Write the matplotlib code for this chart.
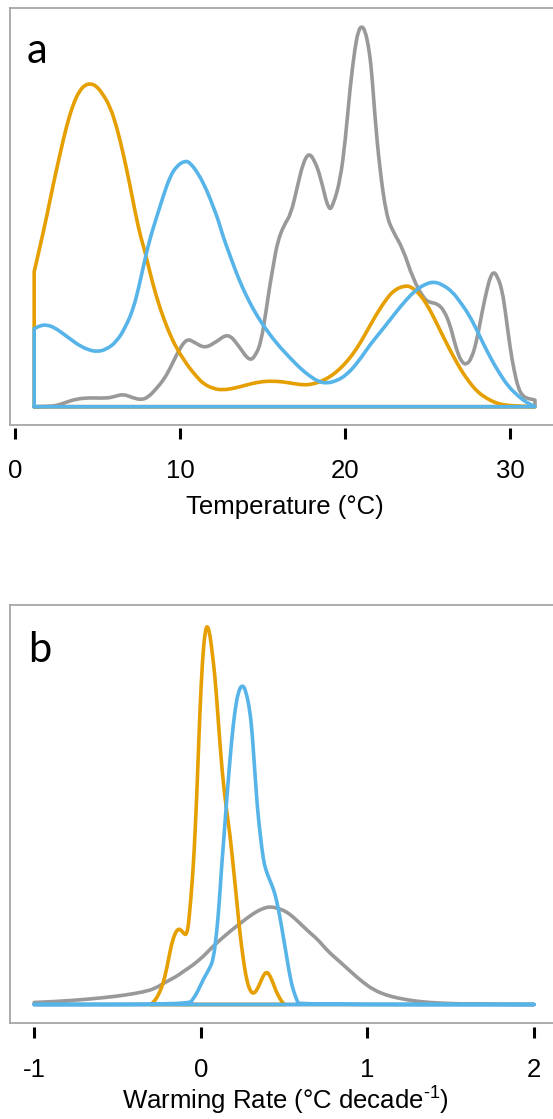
import matplotlib
matplotlib.use("Agg")
import matplotlib.pyplot as plt
from matplotlib.path import Path
from matplotlib.patches import PathPatch

plt.rcParams['font.family'] = ['Liberation Sans', 'DejaVu Sans']
plt.rcParams['mathtext.fontset'] = 'custom'
plt.rcParams['mathtext.rm'] = 'Liberation Sans'
plt.rcParams['mathtext.it'] = 'Liberation Sans:italic'
plt.rcParams['mathtext.sf'] = 'Liberation Sans'

ORANGE = '#E69F00'
BLUE = '#56B4E9'
GREY = '#999999'
FRAME = '#A6A6A6'

# ---- panel a: temperature densities (relative units) ----
temp_orange_x = [1.15, 1.5, 1.87, 2.3, 2.72, 3.1, 3.52, 3.9, 4.25, 4.57, 4.9, 5.3, 5.75, 6.15, 6.55,
                 6.95, 7.3, 7.6, 7.87, 8.3, 8.78, 9.3, 9.79, 10.3, 10.6, 11.0, 11.4, 12.0, 12.6, 13.3,
                 14.0, 14.7, 15.4, 16.2, 16.9, 17.5, 18.0, 18.5, 19.1, 19.7, 20.2, 20.7, 21.2, 21.8, 22.5,
                 23.0, 23.6, 24.0, 24.5, 25.0, 25.5, 26.0, 26.5, 27.0, 27.5, 28.0, 28.6, 29.1, 29.6, 30.5,
                 31.5]
temp_orange_y = [135, 160, 187, 222, 253, 280, 303, 316, 322, 323, 321, 313, 300, 280, 253,
                 222, 192, 170, 155, 125, 98, 75, 58, 45, 38, 30, 23, 18, 16.7, 18.5,
                 21.7, 24.5, 25.7, 25, 23, 21.7, 22.5, 25, 30, 38, 47, 58, 72, 90, 108,
                 117, 121, 120, 113, 101, 85, 68, 52, 37, 25, 15, 8, 4, 1.7, 0.5,
                 0]

temp_blue_x = [1.15, 1.5, 1.9, 2.4, 2.9, 3.32, 3.8, 4.4, 4.94, 5.5, 6.15, 6.7, 7.16, 7.5, 7.87,
               8.2, 8.58, 9.0, 9.38, 9.8, 10.3, 10.6, 11.1, 11.6, 12.0, 12.3, 12.6, 13.0, 13.4, 13.8,
               14.4, 15.0, 15.8, 16.7, 17.3, 17.9, 18.4, 18.9, 19.5, 20.1, 20.8, 21.5, 22.3, 23.1, 23.7,
               24.3, 24.9, 25.4, 25.9, 26.5, 27.0, 27.5, 28.0, 28.4, 28.9, 29.4, 29.9, 30.4, 30.9, 31.5]
temp_blue_y = [78, 81, 82, 79, 73, 68, 62, 57, 55, 57, 65, 80, 98, 120, 148,
               170, 190, 212, 230, 241, 246, 244, 233, 217, 200, 187, 170, 152, 134, 118,
               98, 82, 64, 48, 38, 30, 25, 23.4, 26, 32, 45, 62, 78, 95, 107,
               117, 123, 125, 122, 115, 104, 92, 76, 62, 46, 32, 20, 12, 5, 0]

temp_grey_x = [1.15, 2.0, 2.5, 3.1, 3.7, 4.5, 5.5, 6.0, 6.55, 7.1, 7.67, 8.1, 8.57, 9.0, 9.38,
               9.9, 10.4, 10.9, 11.5, 12.2, 12.9, 13.5, 14.2, 14.6, 14.9, 15.2, 15.4, 15.65, 15.9, 16.3,
               16.7, 17.1, 17.45, 17.8, 18.15, 18.5, 19.0, 19.3, 19.7, 20.0, 20.3, 20.6, 20.8, 21.0, 21.2,
               21.4, 21.6, 21.8, 22.1, 22.5, 22.9, 23.5, 24.1, 24.8, 25.2, 25.6, 26.0, 26.35, 26.6, 26.85,
               27.1, 27.35, 27.65, 27.96, 28.3, 28.6, 28.8, 29.0, 29.2, 29.5, 29.75, 30.0, 30.25, 30.5, 30.75,
               31.0, 31.5]
temp_grey_y = [0, 0.3, 1, 4.5, 7.7, 9, 8.4, 10, 12.7, 9, 6.7, 10, 18.4, 27, 38,
               56, 68.4, 64, 58.4, 65, 73.4, 62, 45, 52, 65, 95, 118, 142, 165, 182,
               192, 220, 244, 254, 246, 230, 195, 203, 227, 265, 320, 360, 376, 381, 376,
               362, 337, 290, 237, 191, 175, 158, 128, 107, 104, 103, 96, 82, 66, 52,
               44, 42, 48, 65, 95, 118, 130, 135, 131, 118, 90, 58, 35, 18, 11,
               8.4, 6.7]

temp_ticks = [0, 10, 20, 30]
temp_ticklabels = ['0', '10', '20', '30']

# ---- panel b: warming-rate densities (relative units) ----
rate_orange_x = [-0.30, -0.275, -0.255, -0.235, -0.215, -0.195, -0.175, -0.155, -0.135, -0.115,
                 -0.095, -0.085, -0.075, -0.06, -0.045, -0.035, -0.025, -0.015, -0.005, 0.01,
                 0.025, 0.039, 0.055, 0.07, 0.085, 0.10, 0.115, 0.13, 0.15, 0.175,
                 0.195, 0.215, 0.235, 0.255, 0.275, 0.295, 0.315, 0.335, 0.355, 0.375,
                 0.395, 0.415, 0.435, 0.455, 0.475, 0.49, 0.505]
rate_orange_y = [0, 4, 9.5, 17, 28, 44, 61, 71, 76, 74,
                 69.5, 71, 78, 105, 138, 170, 206, 250, 294, 345,
                 372, 380, 370, 350, 328, 295, 261, 230, 200, 170,
                 138, 105, 71, 45, 24.5, 14, 10.5, 14, 21, 29,
                 33, 29, 21, 12, 6, 2, 0]

rate_blue_x = [-1.0, -0.07, -0.045, -0.025, -0.005, 0.015, 0.035, 0.055, 0.075, 0.095, 0.11,
               0.125, 0.14, 0.155, 0.175, 0.19, 0.205, 0.225, 0.249, 0.27, 0.295,
               0.31, 0.319, 0.33, 0.339, 0.355, 0.375, 0.39, 0.405, 0.425, 0.445,
               0.465, 0.485, 0.505, 0.525, 0.545, 0.565, 0.58, 0.59, 2.0]
rate_blue_y = [0, 0, 6, 11, 18, 25, 31, 37, 45, 71, 100,
               138, 170, 204, 245, 272, 294, 313, 320, 314, 294,
               268, 245, 220, 198, 172, 145, 135, 128, 120, 111,
               96, 78, 58, 38, 20, 9.5, 3, 0, 0]

rate_grey_x = [-1.0, -0.78, -0.57, -0.45, -0.337, -0.275, -0.205, -0.146, -0.105, -0.05,
               0.015, 0.06, 0.115, 0.175, 0.235, 0.29, 0.335, 0.38, 0.415, 0.46,
               0.515, 0.565, 0.615, 0.66, 0.705, 0.764, 0.84, 0.912, 0.975, 1.039,
               1.11, 1.187, 1.3, 1.44, 1.65, 2.0]
rate_grey_y = [2, 3.8, 7, 9.5, 12.8, 16, 23, 28, 33, 39,
               48, 56, 64.5, 73, 81, 88, 93, 96.5, 97.8, 96.5,
               92.8, 86, 78, 71, 64.5, 53, 42, 31, 22, 14.5,
               9.5, 6.2, 3, 1.2, 0.3, 0]

rate_ticks = [-1, 0, 1, 2]
rate_ticklabels = ['-1', '0', '1', '2']

W, H = 553, 1119
FS = 18.5
fig = plt.figure(figsize=(W / 100, H / 100), dpi=100)


def panel(left, right, top, bottom):
    """Axes placed by pixel edges (right edge may run past the figure)."""
    return fig.add_axes([left / W, 1 - bottom / H, (right - left) / W, (bottom - top) / H])


def outline(ax, x, y, color):
    """Density outline: vertical edge up from the baseline, a smoothed curve
    through the density values, then back along the baseline."""
    pts = list(zip(x, y))
    verts = [(x[0], 0), pts[0]]
    codes = [Path.MOVETO, Path.LINETO]
    mid = lambda a, b: ((a[0] + b[0]) / 2, (a[1] + b[1]) / 2)
    verts.append(mid(pts[0], pts[1]))
    codes.append(Path.LINETO)
    for i in range(1, len(pts) - 1):
        verts += [pts[i], mid(pts[i], pts[i + 1])]
        codes += [Path.CURVE3, Path.CURVE3]
    verts += [pts[-1], (x[-1], 0), (x[0], 0)]
    codes += [Path.LINETO, Path.LINETO, Path.LINETO]
    ax.add_patch(PathPatch(Path(verts, codes), facecolor='none', edgecolor=color,
                           lw=2.6, joinstyle='round', capstyle='round'))


def style(ax, xlim, ylim, ticks, labels, xlabel, gap, labelpad):
    ax.set_xlim(*xlim)
    ax.set_ylim(*ylim)
    ax.set_xticks([])
    ax.set_yticks([])
    for sp in ax.spines.values():
        sp.set_color(FRAME)
        sp.set_linewidth(1.3)
    sec = ax.secondary_xaxis(-gap)
    sec.spines['bottom'].set_visible(False)
    sec.set_xticks(ticks)
    sec.set_xticklabels(labels)
    sec.tick_params(direction='out', length=8, width=2.2, color='black', pad=14, labelsize=FS)
    sec.set_xlabel(xlabel, fontsize=FS, labelpad=labelpad)


# panel a
ax1 = panel(10, 560, 8, 425)
outline(ax1, temp_grey_x, temp_grey_y, GREY)
outline(ax1, temp_orange_x, temp_orange_y, ORANGE)
outline(ax1, temp_blue_x, temp_blue_y, BLUE)
style(ax1, ((10 - 15.2) / 16.5, (560 - 15.2) / 16.5), (-18.3, 398.7),
      temp_ticks, temp_ticklabels, 'Temperature (°C)', 3 / 417, 9)

# panel b
ax2 = panel(10, 560, 605, 1023)
outline(ax2, rate_grey_x, rate_grey_y, GREY)
outline(ax2, rate_orange_x, rate_orange_y, ORANGE)
outline(ax2, rate_blue_x, rate_blue_y, BLUE)
style(ax2, ((10 - 200.8) / 166.6, (560 - 200.8) / 166.6), (-18.5, 399.5),
      rate_ticks, rate_ticklabels, r'Warming Rate (°C decade$^{\text{-1}}$)', 4 / 418, 2)

fig.text(27 / W, 1 - 63 / H, 'a', fontsize=30, family='Lato', ha='left', va='baseline')
fig.text(28 / W, 1 - 662 / H, 'b', fontsize=30, family='Lato', ha='left', va='baseline')

fig.savefig('out.png', dpi=100)
